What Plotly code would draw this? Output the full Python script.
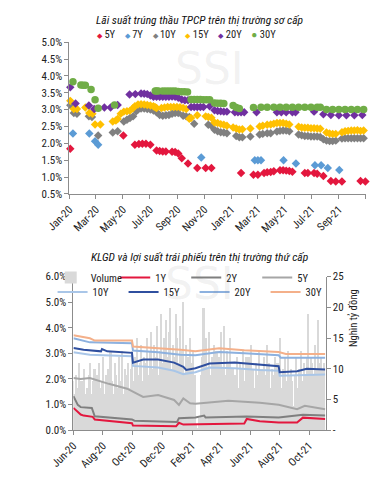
import pandas as pd
import plotly.graph_objects as go

# The page body adds an 8px margin, so the figure is sized to the visible area and
# positions below are given in window pixels and shifted by that margin.
OFF = 8
W, H = 378 - OFF, 479 - OFF
FONT = "Liberation Sans Narrow, Arial Narrow, Roboto Condensed, Liberation Sans, sans-serif"

# ---------------- Top chart: primary auction yields (%) ----------------
d5y = ['2020-01-03', '2020-05-02', '2020-05-28', '2020-06-06', '2020-06-14', '2020-06-22', '2020-07-02',
       '2020-07-16', '2020-07-23', '2020-07-30', '2020-08-06', '2020-08-20', '2020-08-27', '2020-09-03',
       '2020-09-11', '2020-09-25', '2020-10-16', '2020-11-04', '2020-11-17', '2021-01-23', '2021-02-20',
       '2021-03-02', '2021-03-16', '2021-03-23', '2021-03-31', '2021-04-07', '2021-04-21', '2021-04-28',
       '2021-05-05', '2021-05-12', '2021-05-19', '2021-06-16', '2021-06-23', '2021-07-07', '2021-07-14',
       '2021-07-28', '2021-08-14', '2021-08-25', '2021-09-08', '2021-10-20', '2021-10-31']
v5y = [1.84, 2.23, 1.96, 1.98, 1.99, 1.99, 1.96,
       1.79, 1.77, 1.76, 1.76, 1.75, 1.74, 1.70,
       1.56, 1.40, 1.27, 1.27, 1.27, 1.12, 1.07,
       1.07, 1.12, 1.14, 1.15, 1.17, 1.20, 1.20,
       1.19, 1.18, 1.16, 1.12, 1.12, 1.12, 1.10,
       1.03, 0.88, 0.87, 0.87, 0.88, 0.87]

d7y = ['2020-01-09', '2020-02-15', '2020-02-28', '2020-03-06', '2020-10-25', '2021-02-23', '2021-03-02',
       '2021-03-09', '2021-04-29', '2021-05-27', '2021-07-09', '2021-07-23', '2021-08-07', '2021-09-02']
v7y = [2.29, 2.29, 2.06, 1.96, 1.58, 1.50, 1.50,
       1.50, 1.50, 1.40, 1.35, 1.35, 1.27, 1.21]

d10y = ['2020-01-03', '2020-01-11', '2020-01-18', '2020-02-14', '2020-02-21', '2020-03-06', '2020-04-08',
        '2020-04-19', '2020-05-03', '2020-05-10', '2020-05-17', '2020-05-24', '2020-05-31', '2020-06-04',
        '2020-06-11', '2020-06-18', '2020-06-25', '2020-07-02', '2020-07-09', '2020-07-16', '2020-07-23',
        '2020-07-30', '2020-08-06', '2020-08-13', '2020-08-20', '2020-08-27', '2020-09-03', '2020-09-14',
        '2020-09-21', '2020-09-28', '2020-10-09', '2020-11-10', '2020-11-17', '2020-11-24', '2020-12-01',
        '2020-12-08', '2020-12-15', '2020-12-22', '2021-01-12', '2021-01-19', '2021-01-26', '2021-02-13',
        '2021-03-06', '2021-03-13', '2021-03-23', '2021-03-31', '2021-04-14', '2021-04-21', '2021-04-28',
        '2021-05-05', '2021-05-12', '2021-06-02', '2021-06-09', '2021-06-16', '2021-06-23', '2021-06-30',
        '2021-07-07', '2021-07-14', '2021-07-21', '2021-07-28', '2021-08-04', '2021-08-11', '2021-08-18',
        '2021-08-25', '2021-09-08', '2021-09-15', '2021-09-22', '2021-09-29', '2021-10-06', '2021-10-13',
        '2021-10-20', '2021-10-27']
v10y = [3.13, 2.90, 2.88, 2.80, 2.78, 2.23, 2.32,
        2.36, 2.65, 2.70, 2.75, 2.80, 2.95, 3.00,
        3.03, 3.03, 3.02, 3.00, 2.97, 2.92, 2.84,
        2.82, 2.83, 2.84, 2.88, 2.90, 2.90, 2.82,
        2.80, 2.78, 2.58, 2.55, 2.52, 2.40, 2.36,
        2.33, 2.32, 2.30, 2.22, 2.18, 2.18, 2.20,
        2.26, 2.28, 2.30, 2.30, 2.35, 2.37, 2.38,
        2.38, 2.36, 2.26, 2.24, 2.22, 2.22, 2.20,
        2.20, 2.20, 2.19, 2.12, 2.08, 2.07, 2.07,
        2.08, 2.14, 2.15, 2.15, 2.15, 2.15, 2.15,
        2.15, 2.15]

d15y = ['2020-01-03', '2020-01-11', '2020-01-18', '2020-02-06', '2020-02-15', '2020-02-22', '2020-02-28',
        '2020-03-11', '2020-04-08', '2020-04-15', '2020-04-19', '2020-04-26', '2020-05-03', '2020-05-10',
        '2020-05-17', '2020-05-24', '2020-05-28', '2020-06-04', '2020-06-11', '2020-06-18', '2020-06-25',
        '2020-07-02', '2020-07-09', '2020-07-13', '2020-07-16', '2020-07-27', '2020-08-03', '2020-08-10',
        '2020-08-17', '2020-08-24', '2020-08-31', '2020-09-07', '2020-09-14', '2020-09-21', '2020-09-28',
        '2020-10-02', '2020-10-16', '2020-11-04', '2020-11-10', '2020-11-17', '2020-11-24', '2020-12-01',
        '2020-12-08', '2020-12-15', '2020-12-22', '2021-01-05', '2021-01-12', '2021-01-19', '2021-01-26',
        '2021-02-13', '2021-03-06', '2021-03-13', '2021-03-23', '2021-03-31', '2021-04-07', '2021-04-14',
        '2021-04-21', '2021-04-28', '2021-05-05', '2021-05-12', '2021-06-02', '2021-06-09', '2021-06-16',
        '2021-06-23', '2021-06-30', '2021-07-07', '2021-07-14', '2021-07-21', '2021-08-04', '2021-08-11',
        '2021-08-18', '2021-08-25', '2021-09-08', '2021-09-15', '2021-09-22', '2021-09-29', '2021-10-06',
        '2021-10-13', '2021-10-20', '2021-10-27']
v15y = [3.26, 3.02, 3.02, 3.06, 2.90, 2.88, 2.56,
        2.56, 2.65, 2.68, 2.72, 2.88, 2.94, 2.95,
        2.97, 3.05, 3.10, 3.15, 3.16, 3.15, 3.14,
        3.12, 3.10, 3.07, 3.05, 3.05, 3.06, 3.08,
        3.08, 3.08, 3.08, 3.07, 3.05, 3.02, 2.73,
        2.75, 2.83, 2.80, 2.78, 2.76, 2.62, 2.60,
        2.57, 2.55, 2.52, 2.47, 2.44, 2.41, 2.42,
        2.44, 2.50, 2.52, 2.55, 2.56, 2.58, 2.60,
        2.60, 2.60, 2.58, 2.56, 2.49, 2.47, 2.46,
        2.46, 2.45, 2.45, 2.44, 2.43, 2.32, 2.29,
        2.28, 2.28, 2.33, 2.36, 2.37, 2.38, 2.38,
        2.39, 2.37, 2.38]

d20y = ['2020-01-03', '2020-01-15', '2020-02-14', '2020-02-26', '2020-03-20', '2020-04-03', '2020-04-19',
        '2020-05-16', '2020-05-29', '2020-06-11', '2020-06-18', '2020-06-25', '2020-07-02', '2020-07-09',
        '2020-07-16', '2020-07-23', '2020-07-30', '2020-08-06', '2020-08-13', '2020-08-20', '2020-08-27',
        '2020-09-03', '2020-09-11', '2020-09-18', '2020-09-25', '2020-10-02', '2020-10-09', '2020-10-16',
        '2020-10-23', '2020-10-30', '2020-11-13', '2020-11-24', '2020-12-01', '2020-12-08', '2020-12-15',
        '2020-12-22', '2021-01-09', '2021-01-16', '2021-01-23', '2021-01-30', '2021-02-27', '2021-04-14',
        '2021-04-24', '2021-05-05', '2021-05-19', '2021-05-26', '2021-07-07', '2021-07-28', '2021-08-14',
        '2021-09-01', '2021-09-18', '2021-10-06', '2021-10-24']
v20y = [3.66, 3.18, 3.12, 3.02, 3.06, 3.06, 3.14,
        3.45, 3.46, 3.48, 3.47, 3.46, 3.42, 3.38,
        3.38, 3.38, 3.38, 3.38, 3.38, 3.39, 3.38,
        3.35, 3.30, 3.28, 3.28, 3.08, 3.08, 3.08,
        3.08, 3.08, 3.10, 2.98, 2.96, 2.95, 2.94,
        2.94, 2.92, 2.92, 2.92, 2.92, 2.92, 2.92,
        2.92, 2.92, 2.92, 2.92, 2.94, 2.86, 2.84,
        2.83, 2.83, 2.83, 2.84]

d30y = ['2020-01-09', '2020-01-27', '2020-02-01', '2020-02-06', '2020-02-19', '2020-02-28', '2020-03-06',
        '2020-04-12', '2020-07-13', '2020-07-16', '2020-07-20', '2020-07-30', '2020-08-06', '2020-08-13',
        '2020-08-20', '2020-08-27', '2020-09-03', '2020-09-10', '2020-09-17', '2020-09-24', '2020-10-02',
        '2020-10-09', '2020-10-16', '2020-10-23', '2020-10-30', '2020-11-06', '2020-11-13', '2020-11-24',
        '2020-12-01', '2020-12-08', '2020-12-15', '2021-01-05', '2021-01-12', '2021-01-19', '2021-02-20',
        '2021-03-09', '2021-03-23', '2021-04-07', '2021-04-21', '2021-05-05', '2021-05-19', '2021-06-02',
        '2021-06-16', '2021-06-30', '2021-07-14', '2021-07-21', '2021-08-04', '2021-08-18', '2021-09-01',
        '2021-09-15', '2021-09-29', '2021-10-13', '2021-10-27']
v30y = [3.83, 3.73, 3.72, 3.72, 3.60, 3.29, 3.04,
        3.14, 3.55, 3.55, 3.55, 3.55, 3.55, 3.55,
        3.55, 3.55, 3.54, 3.53, 3.53, 3.52, 3.30,
        3.30, 3.30, 3.30, 3.29, 3.29, 3.29, 3.20,
        3.19, 3.19, 3.18, 3.12, 3.06, 3.03, 3.06,
        3.07, 3.07, 3.07, 3.07, 3.07, 3.07, 3.07,
        3.07, 3.07, 3.07, 3.07, 3.00, 3.00, 3.00,
        3.00, 3.00, 3.00, 3.00]

top_ticks = ['2020-01-01', '2020-03-01', '2020-05-01', '2020-07-01', '2020-09-01', '2020-11-01',
             '2021-01-01', '2021-03-01', '2021-05-01', '2021-07-01', '2021-09-01', '2021-11-01']
top_labels = ['Jan-20', 'Mar-20', 'May-20', 'Jul-20', 'Sep-20', 'Nov-20',
              'Jan-21', 'Mar-21', 'May-21', 'Jul-21', 'Sep-21', '']
top_yticks = [0.5, 1.0, 1.5, 2.0, 2.5, 3.0, 3.5, 4.0, 4.5, 5.0]
top_ylabels = ['0.5%', '1.0%', '1.5%', '2.0%', '2.5%', '3.0%', '3.5%', '4.0%', '4.5%', '5.0%']

# ---------------- Bottom chart: secondary market ----------------
vol_start = '2020-06-01'
volume = [8, 6, 9, 7, 11, 6, 8, 7, 10, 6,
          7, 9, 11, 6, 8, 10, 5, 9, 11, 7,
          8, 12, 6, 9, 10, 7, 13, 8, 6, 11,
          9, 7, 12, 8, 13, 6, 10, 9, 11, 7,
          10, 13, 8, 12, 15, 9, 11, 14, 8, 12,
          11, 15, 9, 13, 16, 10, 14, 12, 17, 9,
          13, 19, 11, 15, 18, 12, 16, 20, 10, 14,
          12, 19, 15, 11, 17, 13, 21, 9, 14, 12,
          10, 15, 11, 13, 9, 1, 0.5, 2, 9, 12,
          20, 11, 15, 10, 16, 9, 12, 14, 9, 13,
          8, 12, 16, 10, 17, 9, 13, 11, 15, 8,
          10, 3, 9, 12, 7, 11, 10, 13, 8, 12,
          9, 12, 8, 14, 10, 7, 11, 9, 13, 8,
          10, 8, 12, 9, 14, 11, 7, 10, 9, 12,
          8, 11, 9, 15, 7, 10, 12, 8, 13, 9,
          10, 8, 4, 9, 12, 7, 10, 13, 8, 11,
          9, 12, 19, 10, 12, 11, 9, 14, 10, 18,
          11, 12, 10, 11]

d_1y = ['2020-06-01', '2020-06-16', '2020-06-22', '2020-07-11', '2020-07-15', '2020-08-19', '2020-09-15',
        '2020-09-30', '2020-10-02', '2020-12-30', '2021-01-05', '2021-01-14', '2021-05-20', '2021-05-25',
        '2021-06-21', '2021-07-30', '2021-09-06', '2021-09-18', '2021-11-03']
y_1y = [0.87, 0.61, 0.57, 0.52, 0.42, 0.35, 0.29, 0.27, 0.18, 0.15, 0.29, 0.22, 0.26, 0.44,
        0.35, 0.30, 0.30, 0.49, 0.44]

d_2y = ['2020-06-01', '2020-06-10', '2020-06-16', '2020-07-09', '2020-07-15', '2020-09-01', '2020-09-30',
        '2020-10-05', '2021-01-01', '2021-01-05', '2021-02-08', '2021-02-26', '2021-03-01', '2021-05-25',
        '2021-07-30', '2021-09-18', '2021-11-03']
y_2y = [1.33, 0.99, 0.90, 0.87, 0.54, 0.47, 0.42, 0.37, 0.32, 0.47, 0.50, 0.57, 0.50, 0.53,
        0.50, 0.60, 0.57]

d_5y = ['2020-06-01', '2020-06-16', '2020-07-05', '2020-08-13', '2020-09-20', '2020-10-23', '2020-11-23',
        '2020-12-26', '2021-01-05', '2021-01-14', '2021-01-28', '2021-02-08', '2021-04-17', '2021-06-21',
        '2021-07-30', '2021-09-06', '2021-09-22', '2021-11-03']
y_5y = [2.04, 2.00, 2.04, 1.81, 1.62, 1.30, 1.37, 1.18, 0.99, 1.24, 1.05, 1.03, 1.15, 1.07,
        0.99, 0.82, 0.95, 0.82]

d_10y = ['2020-06-01', '2020-07-05', '2020-09-30', '2020-10-02', '2020-11-23', '2020-12-26', '2021-01-14',
         '2021-02-08', '2021-03-09', '2021-04-30', '2021-06-21', '2021-07-30', '2021-08-01', '2021-11-03']
y_10y = [3.04, 2.95, 2.89, 2.51, 2.45, 2.32, 2.19, 2.26, 2.45, 2.42, 2.35, 2.32, 2.13, 2.17]

d_15y = ['2020-06-01', '2020-06-22', '2020-07-28', '2020-07-30', '2020-08-10', '2020-09-30', '2020-10-02',
         '2020-10-23', '2020-11-23', '2020-12-26', '2021-01-14', '2021-01-20', '2021-02-08', '2021-03-09',
         '2021-04-30', '2021-06-21', '2021-07-30', '2021-08-01', '2021-09-06', '2021-09-26', '2021-11-03']
y_15y = [3.21, 3.14, 3.08, 3.17, 3.08, 3.02, 2.64, 2.76, 2.76, 2.64, 2.47, 2.35, 2.42, 2.60,
         2.64, 2.55, 2.50, 2.26, 2.30, 2.40, 2.37]

d_20y = ['2020-06-01', '2020-07-05', '2020-09-30', '2020-10-02', '2020-11-23', '2021-01-08', '2021-02-08',
         '2021-03-29', '2021-05-20', '2021-07-30', '2021-08-03', '2021-11-03']
y_20y = [3.59, 3.43, 3.40, 3.11, 3.04, 2.95, 2.93, 3.05, 3.00, 2.93, 2.83, 2.83]

d_30y = ['2020-06-01', '2020-07-05', '2020-07-15', '2020-09-30', '2020-10-02', '2020-11-23', '2021-01-08',
         '2021-02-08', '2021-03-29', '2021-05-20', '2021-07-30', '2021-08-14', '2021-11-03']
y_30y = [3.71, 3.59, 3.50, 3.50, 3.27, 3.21, 3.14, 3.08, 3.20, 3.12, 3.05, 2.98, 2.98]

bot_ticks = ['2020-06-01', '2020-08-01', '2020-10-01', '2020-12-01', '2021-02-01', '2021-04-01',
             '2021-06-01', '2021-08-01', '2021-10-01']
bot_labels = ['Jun-20', 'Aug-20', 'Oct-20', 'Dec-20', 'Feb-21', 'Apr-21', 'Jun-21', 'Aug-21', 'Oct-21']
bot_yticks = [0, 1, 2, 3, 4, 5, 6]
bot_ylabels = ['0.0%', '1.0%', '2.0%', '3.0%', '4.0%', '5.0%', '6.0%']
vol_ticks = [0, 5, 10, 15, 20, 25]
vol_labels = ['-', '5', '10', '15', '20', '25']

# ---------------- styles ----------------
top_series = [
    ('5Y', d5y, v5y, '#e3173e', 'diamond'),
    ('7Y', d7y, v7y, '#5b9bd5', 'diamond'),
    ('10Y', d10y, v10y, '#808080', 'diamond'),
    ('15Y', d15y, v15y, '#ffc000', 'diamond'),
    ('20Y', d20y, v20y, '#7030a0', 'diamond'),
    ('30Y', d30y, v30y, '#70ad47', 'circle'),
]
# (name, dates, values, colour, legend row)
bot_series = [
    ('1Y', d_1y, y_1y, '#e3173e', 'legend'),
    ('2Y', d_2y, y_2y, '#7f7f7f', 'legend'),
    ('5Y', d_5y, y_5y, '#a6a6a6', 'legend'),
    ('10Y', d_10y, y_10y, '#a9c6e8', 'legend2'),
    ('15Y', d_15y, y_15y, '#2f4f9f', 'legend2'),
    ('20Y', d_20y, y_20y, '#8db1df', 'legend2'),
    ('30Y', d_30y, y_30y, '#f4b08a', 'legend2'),
]

fig = go.Figure()

# bottom volume bars (base axis -> drawn beneath the yield lines)
vol_dates = pd.date_range(vol_start, periods=len(volume), freq='3D')
fig.add_trace(go.Bar(x=vol_dates, y=volume, name='Volume', xaxis='x2', yaxis='y2',
                     marker=dict(color='#d9d9d9', line=dict(width=0)),
                     width=3.3 * 86400000, legend='legend3'))

for name, d, v, c, lg in bot_series:
    fig.add_trace(go.Scatter(x=d, y=v, name=name, mode='lines', xaxis='x2', yaxis='y3',
                             line=dict(color=c, width=2), legend=lg))

for name, d, v, c, sym in top_series:
    size = 7.5 if sym == 'circle' else 6.5
    fig.add_trace(go.Scatter(x=d, y=v, name=name, mode='markers', xaxis='x', yaxis='y',
                             marker=dict(color=c, symbol=sym, size=size, line=dict(width=0)),
                             showlegend=False, cliponaxis=False))

px_x = lambda p: (p - OFF) / W
px_y = lambda p: 1 - (p - OFF) / H

axis_common = dict(showline=True, linecolor='#8c8c8c', linewidth=1, ticks='outside', ticklen=4,
                   tickcolor='#8c8c8c', showgrid=False, zeroline=False,
                   tickfont=dict(family=FONT, size=11, color='#222'))

legend_common = dict(orientation='h', xanchor='left', yanchor='top', entrywidth=26,
                     entrywidthmode='pixels', itemwidth=30, bgcolor='rgba(0,0,0,0)',
                     font=dict(family=FONT, size=10.5, color='#222'), tracegroupgap=0)

legend_html = '&nbsp;&nbsp;&nbsp;&nbsp;'.join(
    f'<span style="color:{c};font-size:{10 if sym == "circle" else 7}px">{"●" if sym == "circle" else "◆"}</span> {n}'
    for n, _, _, c, sym in top_series)

ann = dict(xref='paper', yref='paper', showarrow=False, xanchor='center', yanchor='middle')

fig.update_layout(
    width=W, height=H, margin=dict(l=0, r=0, t=0, b=0),
    paper_bgcolor='white', plot_bgcolor='rgba(0,0,0,0)',
    font=dict(family=FONT, size=11, color='#222'),
    bargap=0,
    xaxis=dict(domain=[px_x(48), px_x(365)], anchor='y', type='date',
               range=['2020-01-01', '2021-11-01'], tickvals=top_ticks, ticktext=top_labels,
               tickangle=-45, **axis_common),
    yaxis=dict(domain=[px_y(193), px_y(37)], anchor='x', range=[0.5, 5.0],
               tickvals=top_yticks, ticktext=top_ylabels, **axis_common),
    xaxis2=dict(domain=[px_x(52.3), px_x(322)], anchor='y2', type='date',
                range=['2020-06-01', '2021-11-04'], tickvals=bot_ticks, ticktext=bot_labels,
                tickangle=-45, **axis_common),
    yaxis2=dict(domain=[px_y(436), px_y(278)], anchor='x2', side='right', range=[0, 25],
                tickvals=vol_ticks, ticktext=vol_labels, **axis_common),
    yaxis3=dict(overlaying='y2', anchor='x2', side='left', range=[0, 6],
                tickvals=bot_yticks, ticktext=bot_ylabels, **axis_common),
    legend3=dict(x=px_x(28), y=px_y(264), **legend_common),
    legend=dict(x=px_x(97), y=px_y(264), **legend_common),
    legend2=dict(x=px_x(30), y=px_y(279), **legend_common),
    annotations=[
        dict(text='SSI', x=px_x(198), y=px_y(64),
             font=dict(family='DejaVu Sans, sans-serif', size=44, color='rgba(120,120,120,0.10)'), **ann),
        dict(text='SSI', x=px_x(187), y=px_y(285),
             font=dict(family='DejaVu Sans, sans-serif', size=44, color='rgba(120,120,120,0.10)'), **ann),
        dict(text='<i>Lãi suất trúng thầu TPCP trên thị trường sơ cấp</i>', x=px_x(188), y=px_y(14),
             font=dict(family=FONT, size=11.5, color='#111'), **ann),
        dict(text='<i>KLGD và lợi suất trái phiếu trên thị trường thứ cấp</i>', x=px_x(188), y=px_y(258),
             font=dict(family=FONT, size=11.5, color='#111'), **ann),
        dict(text=legend_html, x=px_x(173), y=px_y(29),
             font=dict(family=FONT, size=10.5, color='#222'), **ann),
        dict(text='Nghìn tỷ đồng', x=px_x(352), y=px_y(321), textangle=-90,
             font=dict(family=FONT, size=10.5, color='#222'), **ann),
    ],
)

fig.write_html('out.html')
